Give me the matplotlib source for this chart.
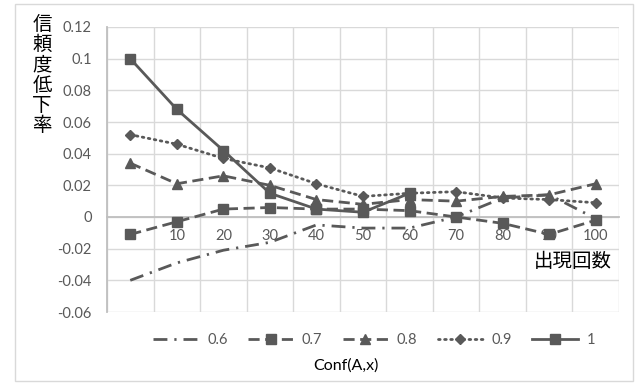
import numpy as np
import matplotlib
matplotlib.use("Agg")
import matplotlib.pyplot as plt
from matplotlib.patches import Rectangle

plt.rcParams["font.family"] = ["Lato", "Noto Sans CJK JP", "DejaVu Sans"]

CATS = ["5", "10", "20", "30", "40", "50", "60", "70", "80", "90", "100"]
S06 = [-0.040, -0.029, -0.021, -0.016, -0.005, -0.007, -0.007, 0.000, 0.012, 0.014, -0.001]
S07 = [-0.011, -0.003, 0.005, 0.006, 0.005, 0.005, 0.004, 0.000, -0.004, -0.011, -0.002]
S08 = [0.034, 0.021, 0.026, 0.020, 0.011, 0.008, 0.011, 0.010, 0.013, 0.014, 0.021]
S09 = [0.052, 0.046, 0.037, 0.031, 0.021, 0.013, 0.015, 0.016, 0.012, 0.011, 0.009]
S10 = [0.100, 0.068, 0.042, 0.015, 0.005, 0.003, 0.015, None, None, None, None]
YTICKS = [-0.06, -0.04, -0.02, 0, 0.02, 0.04, 0.06, 0.08, 0.1, 0.12]
YLABELS = ["-0.06", "-0.04", "-0.02", "0", "0.02", "0.04", "0.06", "0.08", "0.1", "0.12"]

GRAY = "#595959"
GRID = "#d9d9d9"

fig = plt.figure(figsize=(6.37, 3.85), dpi=100)
fig.patches.append(Rectangle((15 / 637, 1 - 381 / 385), 618 / 637, 377 / 385,
                             transform=fig.transFigure, fill=False,
                             edgecolor=GRID, linewidth=1.0))
ax = fig.add_axes([107 / 637, 1 - 312 / 385, 512 / 637, 285 / 385])

x = np.arange(len(CATS)) + 0.5
vals = lambda s: np.array([np.nan if v is None else v for v in s], dtype=float)

ax.plot(x, vals(S06), color=GRAY, lw=2.0, linestyle=(0, (5, 2.5, 0.8, 2.5)),
        label="0.6", zorder=3)
ax.plot(x, vals(S07), color=GRAY, lw=2.0, linestyle=(0, (4, 2)), marker="s",
        ms=6.5, label="0.7", zorder=3)
ax.plot(x, vals(S08), color=GRAY, lw=2.0, linestyle=(0, (4, 2)), marker="^",
        ms=7, label="0.8", zorder=3)
ax.plot(x, vals(S09), color=GRAY, lw=2.0, linestyle=(0, (0.6, 1.6)),
        dash_capstyle="round", marker="D", ms=5.5, label="0.9", zorder=3)
ax.plot(x, vals(S10), color=GRAY, lw=2.0, linestyle="-", marker="s",
        ms=7, label="1", zorder=4)

ax.set_xlim(0, len(CATS))
ax.set_ylim(-0.06, 0.12)
ax.set_xticks(x)
ax.set_xticklabels(CATS)
ax.set_xticks(np.arange(len(CATS) + 1), minor=True)
ax.set_yticks(YTICKS)
ax.set_yticklabels(YLABELS)
ax.grid(True, which="minor", axis="x", color=GRID, lw=1.0, zorder=0)
ax.grid(True, which="major", axis="y", color=GRID, lw=1.0, zorder=0)
ax.tick_params(which="both", length=0)
ax.tick_params(axis="x", pad=9, labelsize=10.5, colors=GRAY)
ax.tick_params(axis="y", pad=11, labelsize=10.5, colors=GRAY)

for side in ["top", "right"]:
    ax.spines[side].set_visible(False)
ax.spines["bottom"].set_position(("data", 0))
ax.spines["bottom"].set_color("#bfbfbf")
ax.spines["bottom"].set_linewidth(1.3)
ax.spines["left"].set_color("#bfbfbf")
ax.spines["left"].set_linewidth(1.3)

ax.text(10.85, -0.028, "出現回数", ha="right", va="center", fontsize=14,
        color="black", family=["Noto Sans CJK JP"])
fig.text(42 / 637, 1 - 75 / 385, "信\n頼\n度\n低\n下\n率", ha="center",
         va="center", fontsize=14, linespacing=0.95, color="black",
         family=["Noto Sans CJK JP"])

fig.legend(loc="center", bbox_to_anchor=(374 / 637, 1 - 340 / 385), ncol=5,
           frameon=False, fontsize=10.5, handlelength=3.1, handletextpad=0.6,
           columnspacing=1.4, labelcolor=GRAY)
fig.text(346 / 637, 1 - 366 / 385, "Conf(A,x)", ha="center", va="center",
         fontsize=11.5, color="black")

fig.savefig("out.png", dpi=100)
